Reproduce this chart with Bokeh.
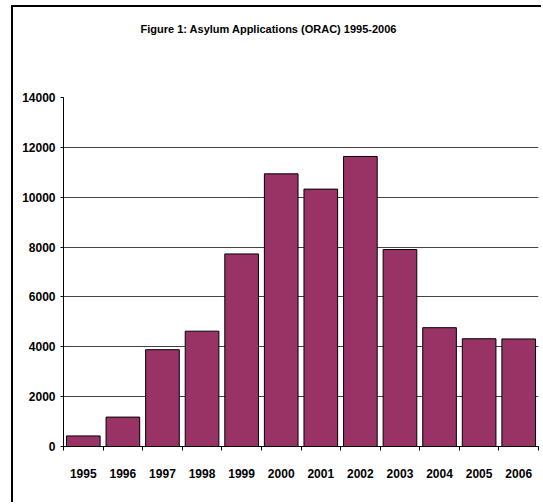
from bokeh.plotting import figure
from bokeh.models import FixedTicker, Range1d, Title
from bokeh.embed import file_html
from bokeh.resources import INLINE

years = ["1995", "1996", "1997", "1998", "1999", "2000", "2001", "2002", "2003", "2004", "2005", "2006"]
applications = [424, 1179, 3883, 4626, 7724, 10938, 10325, 11634, 7900, 4766, 4323, 4314]
y_ticks = [0, 2000, 4000, 6000, 8000, 10000, 12000, 14000]
title_text = "Figure 1: Asylum Applications (ORAC) 1995-2006"

FONT = "Liberation Sans"

centers = [i + 0.5 for i in range(len(years))]
bounds = list(range(len(years) + 1))

p = figure(width=530, height=497, output_backend="svg", toolbar_location=None,
           x_range=Range1d(0, len(years)), y_range=Range1d(0, 14000),
           min_border_left=50, min_border_right=5, min_border_top=90, min_border_bottom=58,
           title=title_text,
           styles={"border-left": "2px solid black", "border-top": "2px solid black",
                   "margin-left": "11px", "margin-top": "5px"})

# blank spacer panel between the title and the frame
p.add_layout(Title(text=" ", standoff=31, text_font_size="11px"), "above")

p.vbar(x=centers, top=applications, width=0.85, fill_color="#993366", line_color="black", line_width=1)

p.outline_line_color = None
p.background_fill_color = "white"
p.border_fill_color = "white"

p.title.align = "left"
p.title.offset = 77
p.title.standoff = 31
p.title.vertical_align = "top"
p.title.text_font = FONT
p.title.text_font_style = "bold"
p.title.text_font_size = "11px"
p.title.text_color = "black"

# x axis
p.xaxis.ticker = FixedTicker(ticks=centers, minor_ticks=bounds)
p.xaxis.major_label_overrides = {c: y for c, y in zip(centers, years)}
p.xaxis.major_tick_line_color = None
p.xaxis.minor_tick_in = 0
p.xaxis.minor_tick_out = 4
p.xaxis.minor_tick_line_color = "black"
p.xaxis.axis_line_color = "black"
p.xaxis.major_label_standoff = 16
p.xaxis.major_label_text_font = FONT
p.xaxis.major_label_text_font_style = "bold"
p.xaxis.major_label_text_font_size = "12px"
p.xaxis.major_label_text_color = "black"
p.xgrid.grid_line_color = None

# y axis
p.yaxis.ticker = FixedTicker(ticks=y_ticks, minor_ticks=[])
p.yaxis.major_tick_in = 0
p.yaxis.major_tick_out = 3
p.yaxis.major_tick_line_color = "black"
p.yaxis.minor_tick_line_color = None
p.yaxis.axis_line_color = "black"
p.yaxis.major_label_standoff = 5
p.yaxis.major_label_text_font = FONT
p.yaxis.major_label_text_font_style = "bold"
p.yaxis.major_label_text_font_size = "12px"
p.yaxis.major_label_text_color = "black"
p.ygrid.grid_line_color = "#444444"
p.ygrid.grid_line_width = 1

open("out.html", "w").write(file_html(p, INLINE))
